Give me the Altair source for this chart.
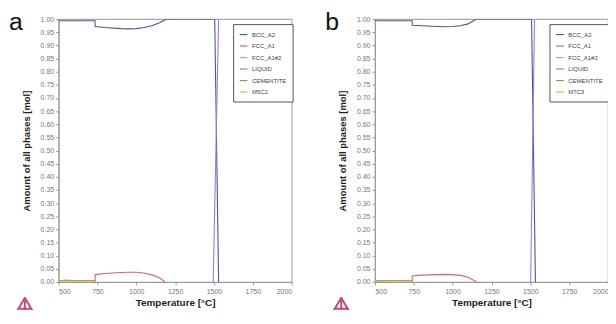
import altair as alt
import pandas as pd

# ---------------- data ----------------
PHASES_A = ["BCC_A2", "FCC_A1", "FCC_A1#2", "LIQUID", "CEMENTITE", "M5C2"]
PHASES_B = ["BCC_A2", "FCC_A1", "FCC_A1#2", "LIQUID", "CEMENTITE", "M7C3"]
COLORS = ["#4f4fa6", "#e0607a", "#7fc97f", "#a07ad8", "#7d9a5a", "#e8b040"]

X_TICKS = [500, 750, 1000, 1250, 1500, 1750, 2000]

# panel a
a_bcc_t = [500, 735, 735, 800, 900, 950, 1000, 1050, 1100, 1150, 1193, 1505, 1530]
a_bcc_v = [0.994, 0.994, 0.972, 0.968, 0.964, 0.963, 0.964, 0.968, 0.975, 0.986, 1.0, 1.0, 0.0]
a_fcc_t = [735, 735, 800, 900, 950, 1000, 1050, 1100, 1150, 1185]
a_fcc_v = [0.0, 0.028, 0.032, 0.036, 0.037, 0.037, 0.034, 0.027, 0.016, 0.0]
a_fcc2_t = [500, 540, 580, 620]
a_fcc2_v = [0.004, 0.007, 0.006, 0.004]
a_liq_t = [1495, 1530]
a_liq_v = [0.0, 1.0]
a_cem_t = [500, 735]
a_cem_v = [0.005, 0.005]
a_m_t = [500, 735]
a_m_v = [0.004, 0.004]

# panel b
b_bcc_t = [500, 740, 740, 800, 900, 950, 1000, 1050, 1100, 1150, 1508, 1533]
b_bcc_v = [0.994, 0.994, 0.977, 0.975, 0.972, 0.971, 0.972, 0.975, 0.982, 1.0, 1.0, 0.0]
b_fcc_t = [740, 740, 800, 900, 950, 1000, 1050, 1100, 1155]
b_fcc_v = [0.0, 0.023, 0.026, 0.028, 0.029, 0.028, 0.025, 0.018, 0.0]
b_fcc2_t = [500, 540, 580]
b_fcc2_v = [0.004, 0.005, 0.004]
b_liq_t = [1502, 1527]
b_liq_v = [0.0, 1.0]
b_cem_t = [500, 740]
b_cem_v = [0.005, 0.005]
b_m_t = [500, 740]
b_m_v = [0.004, 0.004]


def frame(phases, series):
    rows = []
    for ph, (ts, vs) in zip(phases, series):
        for i, (t, v) in enumerate(zip(ts, vs)):
            rows.append({"phase": ph, "T": t, "amount": v, "order": i})
    return pd.DataFrame(rows)


df_a = frame(PHASES_A, [(a_bcc_t, a_bcc_v), (a_fcc_t, a_fcc_v), (a_fcc2_t, a_fcc2_v),
                        (a_liq_t, a_liq_v), (a_cem_t, a_cem_v), (a_m_t, a_m_v)])
df_b = frame(PHASES_B, [(b_bcc_t, b_bcc_v), (b_fcc_t, b_fcc_v), (b_fcc2_t, b_fcc2_v),
                        (b_liq_t, b_liq_v), (b_cem_t, b_cem_v), (b_m_t, b_m_v)])

# Thermo-Calc style triangle logo
LOGO = ("M0,-0.85L1,0.85L-1,0.85Z M0,-0.85L0,0.28 M1,0.85L0,0.28 "
        "M-1,0.85L0,0.28 M-0.5,0L0.5,0")

W, H = 235, 265


def panel(df, phases, letter):
    lines = alt.Chart(df).mark_line(strokeWidth=1.1, clip=True).encode(
        x=alt.X("T:Q", title="Temperature [°C]",
                scale=alt.Scale(domain=[500, 2000], nice=False),
                axis=alt.Axis(values=X_TICKS, format="d", labelFlush=True)),
        y=alt.Y("amount:Q", title="Amount of all phases [mol]",
                scale=alt.Scale(domain=[0, 1], nice=False),
                axis=alt.Axis(values=[i / 20 for i in range(21)], format=".2f")),
        color=alt.Color("phase:N",
                        scale=alt.Scale(domain=phases, range=COLORS),
                        legend=alt.Legend(orient="none", legendX=176, legendY=5,
                                          title=None, strokeColor="#555",
                                          padding=6, symbolType="stroke",
                                          symbolSize=60, symbolStrokeWidth=1.2,
                                          labelFontSize=6, labelColor="#444",
                                          rowPadding=3.6, fillColor="white")),
        order="order:Q",
        detail="phase:N",
    )
    letter_mark = alt.Chart(pd.DataFrame({"t": [letter]})).mark_text(
        fontSize=25, font="Liberation Sans", align="left", baseline="alphabetic",
        color="#111").encode(text="t:N", x=alt.value(-50), y=alt.value(11))
    logo = alt.Chart(pd.DataFrame({"t": [letter]})).mark_point(
        shape=LOGO, filled=False, stroke="#c94a76", strokeWidth=2.0,
        strokeJoin="round", size=676, opacity=1).encode(
        x=alt.value(-34), y=alt.value(292))
    return alt.layer(lines, letter_mark, logo).properties(width=W, height=H)


chart = alt.hconcat(panel(df_a, PHASES_A, "a"), panel(df_b, PHASES_B, "b"),
                    spacing=30).resolve_scale(color="independent").properties(
    padding={"left": 0, "top": 0, "right": -3, "bottom": -13}
).configure(
    font="Liberation Sans"
).configure_view(stroke="#aaa", strokeWidth=1.2).configure_axis(
    domainColor="#999", tickColor="#999", tickSize=3, grid=False,
    labelColor="#777", labelFontSize=7,
    titleColor="#222", titleFontSize=9.5, titleFontWeight="bold",
).configure_axisY(titlePadding=9, labelPadding=2).configure_axisX(
    titlePadding=3, titleFontSize=10, labelPadding=3)

chart.save("out.html", embed_options={"renderer": "svg", "actions": False})
